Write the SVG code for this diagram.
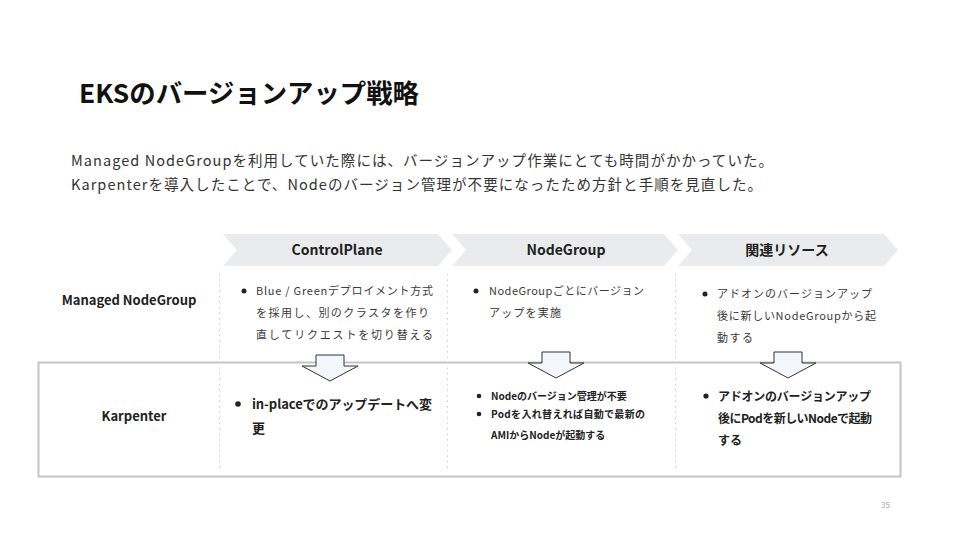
<svg xmlns="http://www.w3.org/2000/svg" width="960" height="540" viewBox="0 0 960 540">
<style>
text{font-family:"Noto Sans CJK JP","Noto Sans",sans-serif;fill:#222}
.title{font-size:26px;font-weight:700;fill:#111}
.sub{font-size:14.5px;fill:#333;font-weight:400}
.hdr{font-size:14px;font-weight:700;text-anchor:middle}
.row{font-size:13px;font-weight:700;text-anchor:middle}
.m{font-size:11px;fill:#3a3a3a}
.k1{font-size:13px;font-weight:700}
.k2{font-size:10px;font-weight:700}
.k3{font-size:12px;font-weight:700}
.chev{fill:#e9ebec}
.dot{stroke:#cfcfcf;stroke-width:1;stroke-dasharray:1.5 4}
.arr{fill:#f3f6fa;stroke:#333;stroke-width:1}
.bul{fill:#222}
</style>
<rect width="960" height="540" fill="#fff"/>
<text class="title" x="79" y="103" textLength="340" lengthAdjust="spacingAndGlyphs">EKSのバージョンアップ戦略</text>
<text class="sub" x="71" y="166" textLength="702" lengthAdjust="spacing">Managed NodeGroupを利用していた際には、バージョンアップ作業にとても時間がかかっていた。</text>
<text class="sub" x="71" y="190" textLength="691" lengthAdjust="spacing">Karpenterを導入したことで、Nodeのバージョン管理が不要になったため方針と手順を見直した。</text>

<g id="header-controlplane">
<polygon class="chev" points="223,234 438,234 452,250 438,266 223,266 237,250"/>
<text class="hdr" x="337" y="255">ControlPlane</text>
</g>
<g id="header-nodegroup">
<polygon class="chev" points="452,234 664,234 678,250 664,266 452,266 466,250"/>
<text class="hdr" x="566" y="255">NodeGroup</text>
</g>
<g id="header-resources">
<polygon class="chev" points="678,234 884,234 898,250 884,266 678,266 692,250"/>
<text class="hdr" x="787" y="255">関連リソース</text>
</g>

<g id="karpenter-box">
<rect x="38.5" y="362.5" width="862" height="114" fill="none" stroke="#c4c4c4" stroke-width="2"/>
</g>

<g id="dividers">
<line class="dot" x1="219.5" y1="274" x2="219.5" y2="470"/>
<line class="dot" x1="447.5" y1="274" x2="447.5" y2="470"/>
<line class="dot" x1="675.5" y1="274" x2="675.5" y2="470"/>
</g>

<g id="row-managed">
<text class="row" x="129" y="305">Managed NodeGroup</text>
</g>
<g id="row-karpenter">
<text class="row" x="134" y="421">Karpenter</text>
</g>

<g id="managed-controlplane">
<circle class="bul" cx="244" cy="291" r="2.5"/>
<text class="m" x="256" y="295" textLength="177" lengthAdjust="spacing">Blue / Greenデプロイメント方式</text>
<text class="m" x="256" y="317" textLength="173" lengthAdjust="spacing">を採用し、別のクラスタを作り</text>
<text class="m" x="256" y="339" textLength="177" lengthAdjust="spacing">直してリクエストを切り替える</text>
</g>
<g id="managed-nodegroup">
<circle class="bul" cx="476" cy="291" r="2.5"/>
<text class="m" x="489" y="295" textLength="155" lengthAdjust="spacing">NodeGroupごとにバージョン</text>
<text class="m" x="489" y="317" textLength="72" lengthAdjust="spacing">アップを実施</text>
</g>
<g id="managed-resources">
<circle class="bul" cx="705" cy="294" r="2.5"/>
<text class="m" x="717" y="298" textLength="155" lengthAdjust="spacing">アドオンのバージョンアップ</text>
<text class="m" x="717" y="320" textLength="159" lengthAdjust="spacing">後に新しいNodeGroupから起</text>
<text class="m" x="717" y="342" textLength="36" lengthAdjust="spacing">動する</text>
</g>

<g id="connectors">
<polygon class="arr" points="316,355 344,355 344,366 358,366 330,381 302,366 316,366"/>
<polygon class="arr" points="542,352 570,352 570,363 584,363 556,378 528,363 542,363"/>
<polygon class="arr" points="774,352 802,352 802,363 816,363 788,378 760,363 774,363"/>
</g>

<g id="karpenter-controlplane">
<circle class="bul" cx="238" cy="404" r="2.8"/>
<text class="k1" x="252" y="409" textLength="180" lengthAdjust="spacing">in-placeでのアップデートへ変</text>
<text class="k1" x="252" y="433">更</text>
</g>
<g id="karpenter-nodegroup">
<circle class="bul" cx="479" cy="396" r="2.3"/>
<text class="k2" x="491" y="400">Nodeのバージョン管理が不要</text>
<circle class="bul" cx="479" cy="414" r="2.3"/>
<text class="k2" x="491" y="418" textLength="154" lengthAdjust="spacing">Podを入れ替えれば自動で最新の</text>
<text class="k2" x="491" y="439">AMIからNodeが起動する</text>
</g>
<g id="karpenter-resources">
<circle class="bul" cx="706" cy="396" r="2.6"/>
<text class="k3" x="718" y="401" textLength="153" lengthAdjust="spacing">アドオンのバージョンアップ</text>
<text class="k3" x="718" y="423" textLength="154" lengthAdjust="spacing">後にPodを新しいNodeで起動</text>
<text class="k3" x="718" y="445">する</text>
</g>

<text x="881" y="508" font-size="8" style="fill:#aaa">35</text>
</svg>
